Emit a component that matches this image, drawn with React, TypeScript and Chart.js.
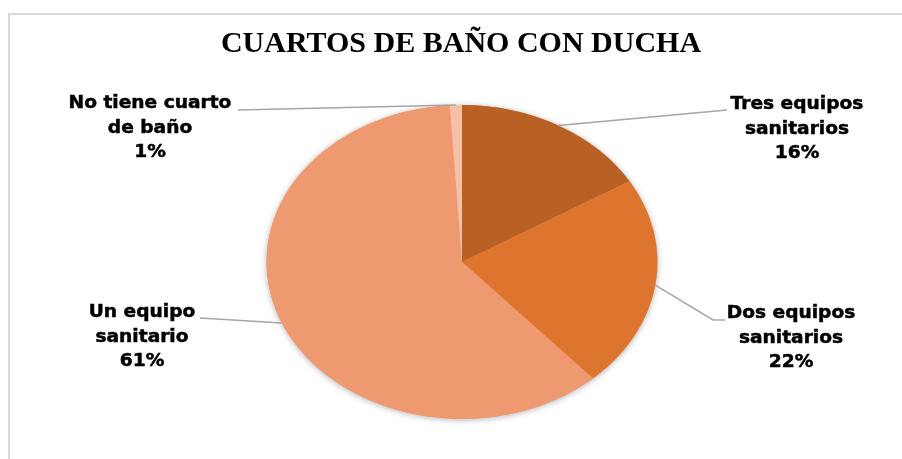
import React, { useEffect, useRef } from "react";
import { Chart, registerables } from "chart.js";

Chart.register(...registerables);

const title = "CUARTOS DE BAÑO CON DUCHA";
const categories = [
  ["Tres equipos", "sanitarios"],
  ["Dos equipos", "sanitarios"],
  ["Un equipo", "sanitario"],
  ["No tiene cuarto", "de baño"],
];
const values = [16.4, 21.9, 60.7, 1.0];
const colors = ["#B96024", "#DE752F", "#EF9971", "#F6C0A7"];

// label anchor layout (center x, first line y) and leader line end points
const labelLayout = [
  { x: 797, y: 105, lx: 727, ly: 110, elbow: null as null | number[] },
  { x: 791, y: 314, lx: 725, ly: 320, elbow: [713, 320] },
  { x: 142, y: 313, lx: 200, ly: 318, elbow: null },
  { x: 150, y: 104, lx: 238, ly: 110, elbow: null },
];

const X_STRETCH = 1.245;
const TEXT_STRETCH = 1.095;

const ellipsePlugin = {
  id: "ellipsePie",
  beforeDraw(chart: any) {
    const ctx = chart.ctx;
    ctx.save();
    ctx.strokeStyle = "#d9d9d9";
    ctx.lineWidth = 2;
    ctx.beginPath();
    ctx.moveTo(9, 459);
    ctx.lineTo(9, 14);
    ctx.lineTo(902, 14);
    ctx.stroke();
    ctx.fillStyle = "#000";
    ctx.font = "bold 30px 'Times New Roman', 'Liberation Serif', serif";
    ctx.textAlign = "center";
    ctx.textBaseline = "middle";
    ctx.fillText(title, 461, 44);
    ctx.restore();
  },
  beforeDatasetsDraw(chart: any) {
    const ctx = chart.ctx;
    const arc = chart.getDatasetMeta(0).data[0];
    const cx = arc.x;
    const cy = arc.y;
    const r = arc.outerRadius;
    ctx.save();
    ctx.save();
    ctx.shadowColor = "rgba(0,0,0,0.3)";
    ctx.shadowBlur = 6;
    ctx.shadowOffsetX = 0;
    ctx.shadowOffsetY = 1;
    ctx.fillStyle = "#EF9971";
    ctx.beginPath();
    ctx.ellipse(cx, cy, r * X_STRETCH, r, 0, 0, Math.PI * 2);
    ctx.fill();
    ctx.restore();
    ctx.translate(cx, 0);
    ctx.scale(X_STRETCH, 1);
    ctx.translate(-cx, 0);
  },
  afterDatasetsDraw(chart: any) {
    const ctx = chart.ctx;
    ctx.restore();
    const meta = chart.getDatasetMeta(0);
    const total = values.reduce((a, b) => a + b, 0);
    meta.data.forEach((arc: any, i: number) => {
      const mid = (arc.startAngle + arc.endAngle) / 2;
      const r = arc.outerRadius;
      const px = arc.x + Math.cos(mid) * r * X_STRETCH;
      const py = arc.y + Math.sin(mid) * r;
      const L = labelLayout[i];
      ctx.save();
      ctx.strokeStyle = "#a6a6a6";
      ctx.lineWidth = 1.5;
      ctx.beginPath();
      ctx.moveTo(px, py);
      if (L.elbow) ctx.lineTo(L.elbow[0], L.elbow[1]);
      ctx.lineTo(L.lx, L.ly);
      ctx.stroke();
      ctx.fillStyle = "#000";
      ctx.strokeStyle = "#000";
      ctx.lineWidth = 0.5;
      ctx.font = "bold 17px 'DejaVu Sans'";
      ctx.textAlign = "center";
      ctx.textBaseline = "middle";
      const lines = [...categories[i], Math.round((values[i] / total) * 100) + "%"];
      lines.forEach((t, k) => {
        ctx.save();
        ctx.translate(L.x, L.y + k * 24.5);
        ctx.scale(TEXT_STRETCH, 1);
        ctx.fillText(t, 0, 0);
        ctx.strokeText(t, 0, 0);
        ctx.restore();
      });
      ctx.restore();
    });
  },
};

export default function App() {
  const ref = useRef<HTMLCanvasElement>(null);
  useEffect(() => {
    if (!ref.current) return;
    const chart = new Chart(ref.current, {
      type: "pie",
      data: {
        labels: categories.map((c) => c.join(" ")),
        datasets: [
          {
            data: values,
            backgroundColor: colors,
            borderWidth: 0,
          },
        ],
      },
      options: {
        animation: false,
        responsive: false,
        devicePixelRatio: 1,
        rotation: 0,
        layout: { padding: { top: 105, bottom: 40, left: 305, right: 283 } },
        plugins: {
          legend: { display: false },
          tooltip: { enabled: false },
          title: { display: false },
        },
      },
      plugins: [ellipsePlugin],
    });
    return () => chart.destroy();
  }, []);
  return (
    <div style={{ position: "fixed", left: 0, top: 0, width: 902, height: 459, background: "#fff" }}>
      <canvas ref={ref} width={902} height={459} style={{ width: 902, height: 459 }} />
    </div>
  );
}
